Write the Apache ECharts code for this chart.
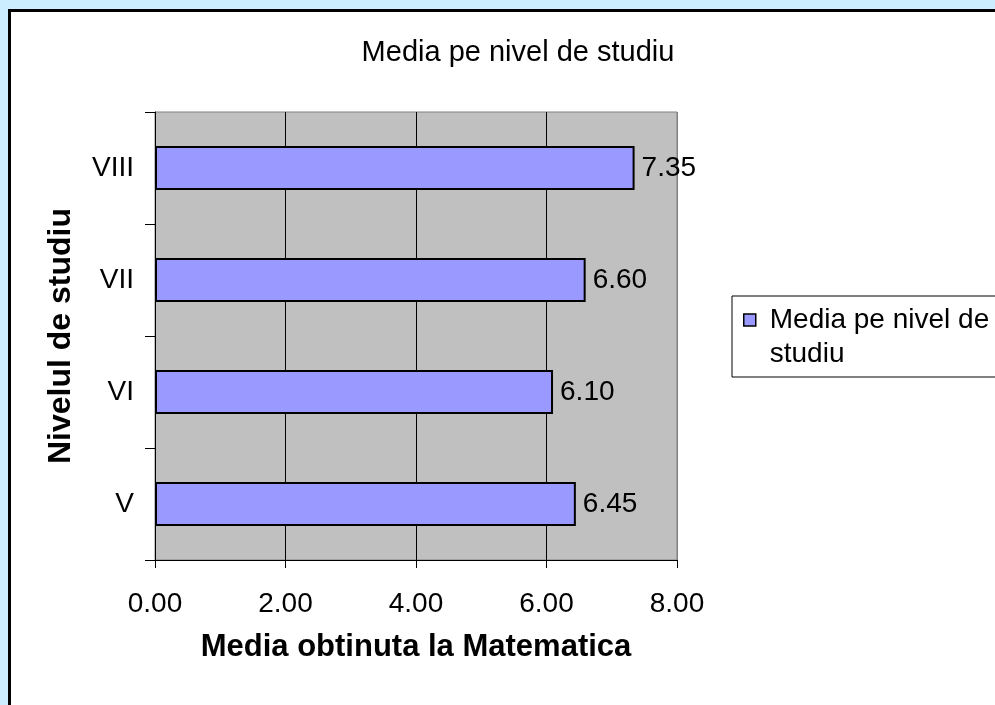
<!DOCTYPE html>
<html>
<head>
<meta charset="utf-8">
<script src="https://cdn.jsdelivr.net/npm/echarts@6/dist/echarts.min.js"></script>
<style>
  html, body { margin: 0; padding: 0; }
  #chart { width: 995px; height: 705px; }
</style>
</head>
<body>
<div id="chart"></div>
<script>
const levels = ['V', 'VI', 'VII', 'VIII']
const averages = [6.45, 6.10, 6.60, 7.35]
const seriesName = 'Media pe nivel de studiu'

const font = 'Liberation Sans, Arial, sans-serif'
const chart = echarts.init(document.querySelector('#chart'))

const option = {
    backgroundColor: '#CCECFF',
    textStyle: { fontFamily: font },
    graphic: [{
        type: 'rect',
        z: -10,
        silent: true,
        shape: { x: 9.5, y: 10.5, width: 1200, height: 1000 },
        style: { fill: '#fff', stroke: '#000', lineWidth: 3 }
    }],
    title: {
        text: 'Media pe nivel de studiu',
        left: 513,
        textAlign: 'center',
        top: 33,
        textStyle: { fontSize: 29, fontWeight: 'normal', color: '#000', fontFamily: font }
    },
    legend: {
        left: 732,
        top: 296,
        orient: 'vertical',
        backgroundColor: '#fff',
        borderColor: '#000',
        borderWidth: 1,
        borderRadius: 0,
        padding: [7, 40, 6, 11],
        itemWidth: 12,
        itemHeight: 46,
        // square at the top, empty point at the bottom so it sits next to the first line
        icon: 'path://M0,0L12,0L12,12L0,12Z M0,46L0,46',
        itemStyle: { borderWidth: 1.5 },
        formatter: () => 'Media pe nivel de\nstudiu',
        textStyle: { fontSize: 28, lineHeight: 34, color: '#000', padding: [0, 0, 0, 9], fontFamily: font },
        data: [seriesName]
    },
    grid: {
        left: 155,
        top: 112,
        width: 522,
        height: 448,
        show: true,
        backgroundColor: '#C0C0C0',
        borderColor: '#808080',
        borderWidth: 1
    },
    xAxis: {
        type: 'value',
        min: 0,
        max: 8,
        interval: 2,
        name: 'Media obtinuta la Matematica',
        nameLocation: 'middle',
        nameGap: 72,
        nameTextStyle: { fontSize: 31, fontWeight: 'bold', color: '#000', fontFamily: font },
        axisLine: { show: true, lineStyle: { color: '#000', width: 1 } },
        axisTick: { show: true, length: 8, lineStyle: { color: '#000' } },
        axisLabel: { fontSize: 28, color: '#000', margin: 30, formatter: v => v.toFixed(2), fontFamily: font },
        splitLine: { show: true, lineStyle: { color: ['#808080', '#000', '#000', '#000', '#808080'], width: 1 } }
    },
    yAxis: {
        type: 'category',
        data: levels,
        name: 'Nivelul de studiu',
        nameLocation: 'middle',
        nameGap: 78,
        nameTextStyle: { fontSize: 32, fontWeight: 'bold', color: '#000', fontFamily: font },
        axisLine: { show: true, lineStyle: { color: '#000', width: 1 } },
        axisTick: { show: true, length: 10, lineStyle: { color: '#000' } },
        axisLabel: { fontSize: 28, color: '#000', margin: 21, fontFamily: font },
        splitLine: { show: false }
    },
    series: [{
        name: seriesName,
        type: 'bar',
        data: averages,
        barWidth: 44,
        itemStyle: { color: '#9999FF', borderColor: '#000', borderWidth: 2 },
        label: {
            show: true,
            position: 'right',
            distance: 7,
            fontSize: 28,
            color: '#000',
            fontFamily: font,
            formatter: p => p.value.toFixed(2)
        }
    }]
}

chart.setOption(option)
</script>
</body>
</html>
